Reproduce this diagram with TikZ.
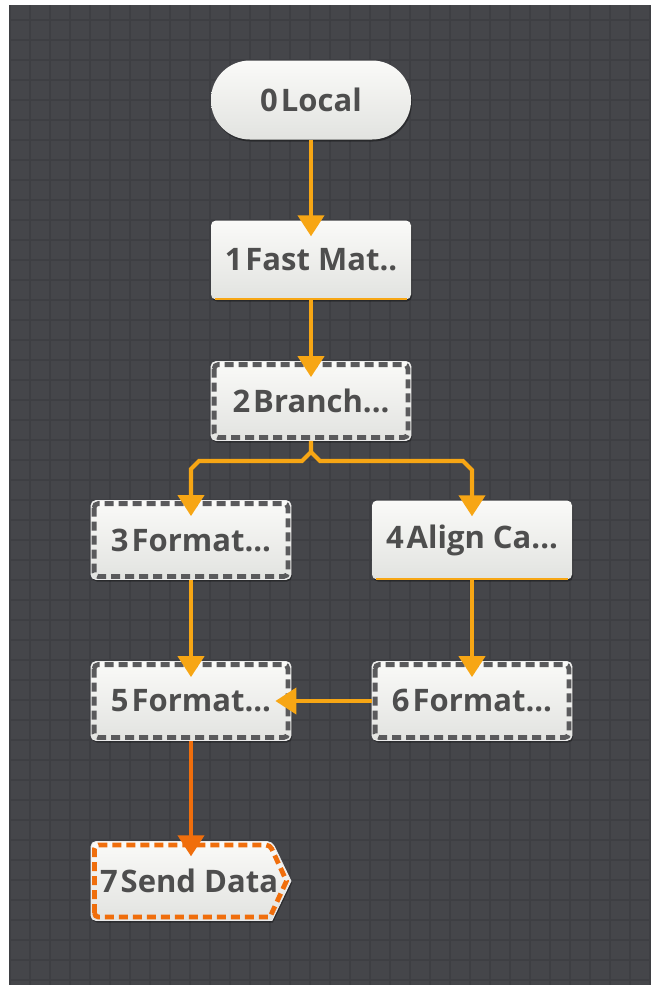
\documentclass[tikz,border=0pt]{standalone}
\usepackage{fontspec}
\newfontfamily\nodefont{Open Sans}
\usetikzlibrary{arrows.meta,shadows,calc}
\definecolor{bgc}{RGB}{69,70,74}
\definecolor{gridc}{RGB}{62,63,67}
\definecolor{edgeo}{RGB}{247,166,20}
\definecolor{edged}{RGB}{240,110,12}
\definecolor{txtc}{RGB}{78,78,78}
\definecolor{dashc}{RGB}{90,90,92}
\definecolor{topf}{RGB}{250,250,248}
\definecolor{botf}{RGB}{226,227,224}
\newcommand{\nlabel}[2]{#1\hspace{3pt}#2}
\newcommand{\dashborder}[2]{%
  \draw[dashline, draw=#2] ([shift={(3.5pt,-3.5pt)}]#1.north west) rectangle ([shift={(-3.5pt,3.5pt)}]#1.south east);}
\tikzset{
  box/.style={minimum width=200pt, minimum height=79pt, rounded corners=5pt,
    top color=topf, bottom color=botf, inner sep=0pt,
    font=\nodefont\bfseries\fontsize{31}{36}\selectfont, text=txtc,
    drop shadow={shadow xshift=1pt, shadow yshift=-2pt, opacity=0.35, fill=black}},
  pillbox/.style={box, rounded corners=39pt},
  dashbox/.style={box, draw=white!85!gray, line width=0.8pt},
  dashline/.style={line width=4.8pt, dash pattern=on 9pt off 5pt, rounded corners=4pt},
  textonly/.style={minimum width=200pt, minimum height=79pt, inner sep=0pt,
    font=\nodefont\bfseries\fontsize{31}{36}\selectfont, text=txtc},
  sendshape/.style={top color=topf, bottom color=botf, draw=white!85!gray, line width=0.8pt,
    rounded corners=5pt,
    drop shadow={shadow xshift=1pt, shadow yshift=-2pt, opacity=0.35, fill=black}},
  sendline/.style={draw=edged, line width=4.8pt, dash pattern=on 9pt off 5pt, rounded corners=4pt},
  flow/.style={draw=edgeo, line width=4.2pt, -{Triangle[width=26pt,length=21pt]}},
  flowdark/.style={flow, draw=edged},
  underline/.style={draw=edgeo, line width=2.2pt},
  gridline/.style={draw=gridc, line width=2pt},
}
\begin{document}
\begin{tikzpicture}[x=1pt,y=-1pt]
\useasboundingbox (0,0) rectangle (651,985);
\fill[white] (0,0) rectangle (651,985);
\fill[bgc] (9,5) rectangle (651,985);
\foreach \gx in {10,30,...,650} \draw[gridline] (\gx,5) -- (\gx,985);
\foreach \gy in {20,40,...,980} \draw[gridline] (9,\gy) -- (651,\gy);

% nodes
\node[pillbox] (n0) at (311,100) {\nlabel{0}{Local}};
\node[box] (n1) at (311,260) {\nlabel{1}{Fast Mat..}};
\draw[underline] ([xshift=4pt,yshift=0.5pt]n1.south west) -- ([xshift=-4pt,yshift=0.5pt]n1.south east);
\node[dashbox] (n2) at (311,401) {\nlabel{2}{Branch...}};
\dashborder{n2}{dashc}
\node[dashbox] (n3) at (191,540) {\nlabel{3}{Format...}};
\dashborder{n3}{dashc}
\node[box] (n4) at (472,540) {\nlabel{4}{Align Ca...}};
\draw[underline] ([xshift=4pt,yshift=0.5pt]n4.south west) -- ([xshift=-4pt,yshift=0.5pt]n4.south east);
\node[dashbox] (n5) at (191,701) {\nlabel{5}{Format...}};
\dashborder{n5}{dashc}
\node[dashbox] (n6) at (472,701) {\nlabel{6}{Format...}};
\dashborder{n6}{dashc}
\coordinate (c7) at (191,881);
\path[sendshape] ($(c7)+(-100,39.5)$) -- ($(c7)+(-100,-39.5)$) -- ($(c7)+(81,-39.5)$)
  [sharp corners] -- ($(c7)+(100,0)$) -- ($(c7)+(81,39.5)$) [rounded corners=5pt] -- cycle;
\path[sendline] ($(c7)+(-96.5,36)$) -- ($(c7)+(-96.5,-36)$) -- ($(c7)+(79,-36)$)
  [sharp corners] -- ($(c7)+(95.5,0)$) -- ($(c7)+(79,36)$) [rounded corners=4pt] -- cycle;
\node[textonly] (n7) at ($(c7)+(-2,0)$) {\nlabel{7}{Send Data}};

% branch coordinates
\coordinate (br) at (311,452);
\coordinate (bl1) at (302,461);
\coordinate (bl2) at (199,461);
\coordinate (bl3) at (191,469);
\coordinate (br1) at (320,461);
\coordinate (br2) at (463,461);
\coordinate (br3) at (472,470);

% edges
\draw[flow] (n0.south) -- ([yshift=-16pt]n1.north);
\draw[flow] (n1.south) -- ([yshift=-16pt]n2.north);
\draw[flow] (n2.south) -- (br) -- (bl1) -- (bl2) -- (bl3) -- ([yshift=-16pt]n3.north);
\draw[flow] (br) -- (br1) -- (br2) -- (br3) -- ([yshift=-16pt]n4.north);
\draw[flow] (n3.south) -- ([yshift=-16pt]n5.north);
\draw[flow] (n4.south) -- ([yshift=-16pt]n6.north);
\draw[flow] (n6.west) -- ([xshift=-16pt]n5.east);
\draw[flowdark] (n5.south) -- ([yshift=-15pt,xshift=2pt]n7.north);
\end{tikzpicture}
\end{document}
